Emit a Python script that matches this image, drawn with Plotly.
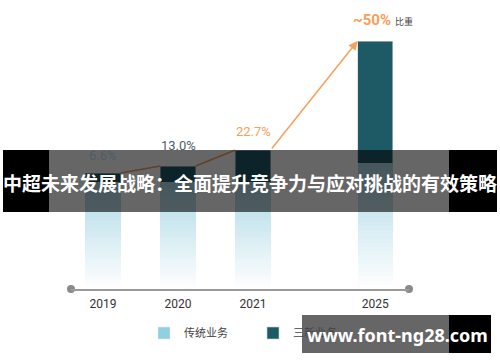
import plotly.graph_objects as go

# ---- data ----
years = ["2019", "2020", "2021", "2025"]
traditional = [10.7, 10.7, 10.7, 12.6]    # 传统业务 (light, gradient)
new_business = [0.9, 1.6, 3.2, 12.2]      # 三新业务 (dark)
share_labels = ["6.6%", "13.0%", "22.7%", "~50%"]

# ---- layout constants ----
x_pos = [0, 1, 2, 3.63]
bar_w = 0.47
x_range = [-0.427, 4.08]
y_range = [0, 26]
L, R, T, B = 71, 91, 29, 73
W, H = 500, 362
PW, PH = W - L - R, H - T - B

ORANGE = "#f5a05c"
DARK = "#1e5a66"
LIGHT_LEG = "#8fd0e1"
GRAY_TXT = "#4d5c67"

def px_x(px):
    return (px - L) / PW

def px_y(py):
    return (H - B - py) / PH

fig = go.Figure()

# gradient light bars, built as stacked slices of the traditional values
N = 30
top_rgb = (172, 217, 231)
for k in range(N):
    t = ((k + 0.5) / N) ** 1.0
    c = tuple(round(255 * (1 - t) + top_rgb[i] * t) for i in range(3))
    fig.add_trace(go.Bar(
        x=x_pos, y=[v / N for v in traditional], width=bar_w,
        marker=dict(color="rgb(%d,%d,%d)" % c, line=dict(width=0)),
        showlegend=False, legendgroup="trad", hoverinfo="skip"))

# legend entry for traditional
fig.add_trace(go.Bar(x=[None], y=[None], name="传统业务",
                     marker=dict(color=LIGHT_LEG), legendgroup="trad"))

# dark bars
fig.add_trace(go.Bar(
    x=x_pos, y=new_business, width=bar_w, name="三新业务",
    marker=dict(color=DARK, line=dict(width=0.6, color="#c9d3d6")),
    hoverinfo="skip"))

totals = [a + b for a, b in zip(traditional, new_business)]

# orange connecting line between bar corners
lx, ly = [], []
for i in range(len(x_pos) - 2):
    lx += [x_pos[i] + bar_w / 2, x_pos[i + 1] - bar_w / 2, None]
    ly += [totals[i], totals[i + 1], None]
fig.add_trace(go.Scatter(x=lx, y=ly, mode="lines",
                         line=dict(color=ORANGE, width=1.5),
                         showlegend=False, hoverinfo="skip"))
# last segment with arrow
fig.add_annotation(x=x_pos[3] - bar_w / 2, y=totals[3],
                   ax=x_pos[2] + bar_w / 2, ay=totals[2],
                   xref="x", yref="y", axref="x", ayref="y",
                   text="", showarrow=True, arrowhead=2, arrowsize=1.2,
                   arrowwidth=1.5, arrowcolor=ORANGE, standoff=0)

# axis end dots
fig.add_trace(go.Scatter(x=x_range, y=[0, 0], mode="markers",
                         marker=dict(color="#8a8a8a", size=8),
                         cliponaxis=False, showlegend=False, hoverinfo="skip"))

# share labels
label_colors = [GRAY_TXT, GRAY_TXT, ORANGE, ORANGE]
label_sizes = [13, 13, 13, 15]
label_shift = [8, 11, 9, 10]
for i, lab in enumerate(share_labels):
    fig.add_annotation(x=x_pos[i] - (0.04 if i == 3 else 0), y=totals[i],
                       text=("<b>%s</b>" % lab) if i == 3 else lab,
                       showarrow=False, xanchor="center", yanchor="bottom",
                       yshift=label_shift[i],
                       font=dict(size=label_sizes[i], color=label_colors[i]))
fig.add_annotation(x=px_x(404), y=px_y(21), xref="paper", yref="paper",
                   xanchor="center", yanchor="middle",
                   text="比重", showarrow=False,
                   font=dict(size=9, color="#444444"))

# title banner overlay
shapes = [
    dict(type="rect", xref="paper", yref="paper", x0=px_x(3), x1=px_x(49),
         y0=px_y(212), y1=px_y(150), fillcolor="black", line_width=0, layer="above"),
    dict(type="rect", xref="paper", yref="paper", x0=px_x(49), x1=px_x(449),
         y0=px_y(212), y1=px_y(150), fillcolor="rgba(0,0,0,0.6)", line_width=0, layer="above"),
    dict(type="rect", xref="paper", yref="paper", x0=px_x(449), x1=px_x(497),
         y0=px_y(212), y1=px_y(150), fillcolor="black", line_width=0, layer="above"),
    dict(type="rect", xref="paper", yref="paper", x0=px_x(302), x1=px_x(449),
         y0=px_y(353), y1=px_y(315), fillcolor="rgba(0,0,0,0.6)", line_width=0, layer="above"),
    dict(type="rect", xref="paper", yref="paper", x0=px_x(449), x1=px_x(491),
         y0=px_y(353), y1=px_y(315), fillcolor="black", line_width=0, layer="above"),
]
fig.add_annotation(x=px_x(250), y=px_y(182), xref="paper", yref="paper",
                   xanchor="center", yanchor="middle",
                   text="<b>中超未来发展战略：全面提升竞争力与应对挑战的有效策略</b>",
                   showarrow=False,
                   font=dict(size=19, color="white", family="Noto Sans CJK SC"))
fig.add_annotation(x=px_x(397), y=px_y(335), xref="paper", yref="paper",
                   xanchor="center", yanchor="middle",
                   text="<b>www.font-ng28.com</b>", showarrow=False,
                   font=dict(size=18, color="white", family="Noto Sans"))

fig.update_layout(
    width=W, height=H,
    margin=dict(l=L, r=R, t=T, b=B, autoexpand=False),
    barmode="stack",
    paper_bgcolor="white", plot_bgcolor="white",
    font=dict(family="Roboto, Noto Sans CJK SC", color="#333333"),
    shapes=shapes,
    showlegend=True,
    legend=dict(orientation="h", x=px_x(144), xanchor="left",
                y=px_y(333), yanchor="middle",
                bgcolor="rgba(0,0,0,0)",
                entrywidth=64, font=dict(size=11, color="#444444"),
                traceorder="normal"),
    xaxis=dict(range=x_range, tickvals=x_pos, ticktext=years,
               showgrid=False, zeroline=False, showline=True,
               linecolor="#9a9a9a", linewidth=2, ticks="",
               tickfont=dict(size=12, color="#333333"),
               ticklabelstandoff=3),
    yaxis=dict(range=y_range, visible=False, showgrid=False),
)

fig.write_html("out.html", config={"displayModeBar": False},
               post_script="document.body.style.margin='0';document.body.style.overflow='hidden';")
